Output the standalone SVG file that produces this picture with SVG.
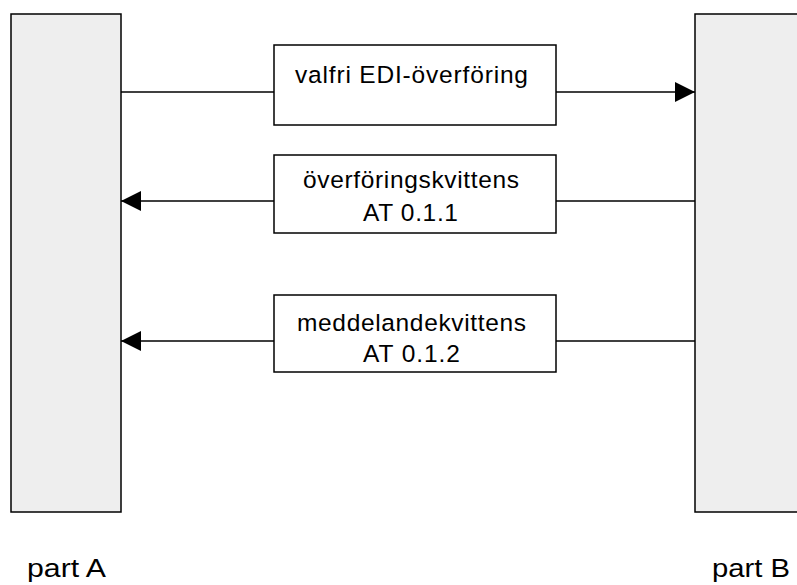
<svg xmlns="http://www.w3.org/2000/svg" width="797" height="585" viewBox="0 0 797 585">
<defs>
<style>
.bar{fill:#eeeeee;stroke:#000;stroke-width:1.5}
.box{fill:#fff;stroke:#000;stroke-width:1.5}
.ln{stroke:#000;stroke-width:1.5;fill:none}
text{font-family:"Liberation Sans",Arial,sans-serif;font-size:24.5px;fill:#000}
.lbl{font-size:26px}
</style>
<marker id="ah" viewBox="0 0 20 20" refX="20" refY="10" markerWidth="20" markerHeight="20" markerUnits="userSpaceOnUse" orient="auto">
<path d="M0,0 L20,10 L0,20 Z" fill="#000"/>
</marker>
</defs>
<g id="partA">
<rect class="bar" x="11" y="14" width="110" height="498"/>
<text class="lbl" x="27" y="577" textLength="79" lengthAdjust="spacingAndGlyphs">part A</text>
</g>
<g id="partB">
<rect class="bar" x="695" y="14" width="110" height="498"/>
<text class="lbl" x="712" y="577" textLength="78" lengthAdjust="spacingAndGlyphs">part B</text>
</g>
<g id="connectors">
<line class="ln" x1="121" y1="92" x2="274" y2="92"/>
<line class="ln" x1="556" y1="92" x2="695" y2="92" marker-end="url(#ah)"/>
<line class="ln" x1="695" y1="201" x2="556" y2="201"/>
<line class="ln" x1="274" y1="201" x2="121" y2="201" marker-end="url(#ah)"/>
<line class="ln" x1="695" y1="341" x2="556" y2="341"/>
<line class="ln" x1="274" y1="341" x2="121" y2="341" marker-end="url(#ah)"/>
</g>
<g id="msg1">
<rect class="box" x="274" y="45" width="282" height="80"/>
<text x="295" y="83" textLength="233" lengthAdjust="spacing">valfri EDI-överföring</text>
</g>
<g id="msg2">
<rect class="box" x="274" y="155" width="282" height="78"/>
<text x="303" y="188" textLength="216" lengthAdjust="spacing">överföringskvittens</text>
<text x="363" y="221" textLength="95" lengthAdjust="spacing">AT 0.1.1</text>
</g>
<g id="msg3">
<rect class="box" x="274" y="295" width="282" height="77"/>
<text x="297" y="331" textLength="229" lengthAdjust="spacing">meddelandekvittens</text>
<text x="363" y="362" textLength="97" lengthAdjust="spacing">AT 0.1.2</text>
</g>
</svg>
